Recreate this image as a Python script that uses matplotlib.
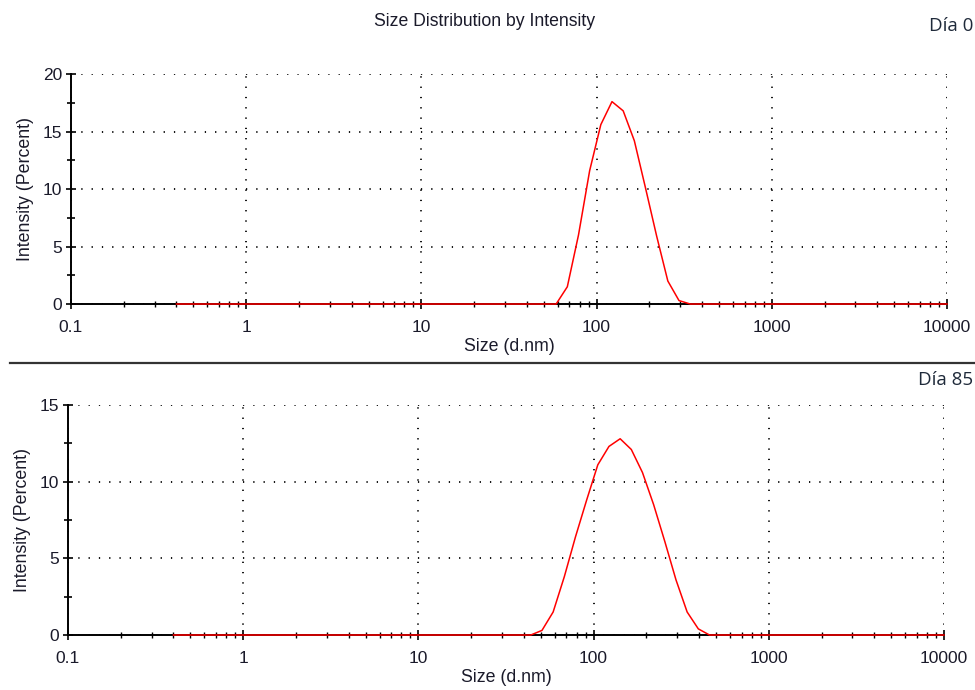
import numpy as np
import matplotlib.pyplot as plt
from matplotlib.lines import Line2D
from matplotlib.ticker import FixedLocator, FixedFormatter, LogLocator, MultipleLocator, NullFormatter

plt.rcParams['font.family'] = ['Liberation Sans', 'DejaVu Sans']

# Zetasizer size bins (d.nm)
size_bins = [0.4, 0.4632, 0.5365, 0.6213, 0.7195, 0.8332, 0.9649, 1.117, 1.294, 1.499,
             1.736, 2.010, 2.328, 2.696, 3.122, 3.615, 4.187, 4.849, 5.615, 6.503,
             7.531, 8.721, 10.10, 11.70, 13.54, 15.69, 18.17, 21.04, 24.36, 28.21,
             32.67, 37.84, 43.82, 50.75, 58.77, 68.06, 78.82, 91.28, 105.7, 122.4,
             141.8, 164.2, 190.1, 220.2, 255.0, 295.3, 342.0, 396.1, 458.7, 531.2,
             615.1, 712.4, 825.0, 955.4, 1106, 1281, 1484, 1718, 1990, 2305,
             2669, 3091, 3580, 4145, 4801, 5560, 6439, 7456, 8635, 10000]

# non-zero part of each distribution, keyed by bin size
day0_peak = {58.77: 0.0, 68.06: 1.5, 78.82: 6.0, 91.28: 11.6, 105.7: 15.6, 122.4: 17.6,
             141.8: 16.8, 164.2: 14.2, 190.1: 10.1, 220.2: 5.9, 255.0: 2.0, 295.3: 0.3}
day85_peak = {50.75: 0.3, 58.77: 1.5, 68.06: 3.8, 78.82: 6.4, 91.28: 8.8, 105.7: 11.1,
              122.4: 12.3, 141.8: 12.8, 164.2: 12.1, 190.1: 10.6, 220.2: 8.5, 255.0: 6.1,
              295.3: 3.6, 342.0: 1.5, 396.1: 0.4}

day0 = [day0_peak.get(s, 0.0) for s in size_bins]
day85 = [day85_peak.get(s, 0.0) for s in size_bins]

panels = [
    (day0, 20, [0.0728, 0.5594, 0.8985, 0.3333], "Día 0", 26),
    (day85, 15, [0.0697, 0.0797, 0.8985, 0.3333], "Día 85", 380),
]

dec_ticks = [0.1, 1, 10, 100, 1000, 10000]
dec_labels = ["0.1", "1", "10", "100", "1000", "10000"]

txt_col = "#1a1a2a"

fig = plt.figure(figsize=(9.75, 6.9), dpi=100)

for values, ymax, rect, tag, tag_y in panels:
    ax = fig.add_axes(rect)
    ax.plot(size_bins, values, color="#ff0000", lw=1.1, zorder=3, clip_on=False)
    ax.set_xscale("log")
    ax.set_xlim(0.1, 10000)
    ax.set_ylim(0, ymax)

    ax.xaxis.set_major_locator(FixedLocator(dec_ticks))
    ax.xaxis.set_major_formatter(FixedFormatter(dec_labels))
    ax.xaxis.set_minor_locator(LogLocator(base=10, subs=np.arange(2, 10), numticks=20))
    ax.xaxis.set_minor_formatter(NullFormatter())
    ax.yaxis.set_major_locator(MultipleLocator(5))
    ax.yaxis.set_minor_locator(MultipleLocator(2.5))

    for side in ["top", "right"]:
        ax.spines[side].set_visible(False)
    ax.spines["left"].set_linewidth(1.4)
    ax.spines["bottom"].set_linewidth(1.4)

    ax.tick_params(axis="both", which="major", direction="inout", length=7, width=1.2,
                   labelsize=12.5, colors="black", labelcolor=txt_col)
    ax.tick_params(axis="y", which="minor", direction="inout", length=6, width=1.2)
    ax.tick_params(axis="x", which="minor", direction="inout", length=5, width=1.0)
    ax.tick_params(axis="x", which="major", pad=8)
    ax.tick_params(axis="y", which="major", pad=3)

    ax.grid(True, which="major", color="black", lw=1.3, linestyle=(0, (0.7, 5.0)))
    ax.set_axisbelow(True)

    ax.set_xlabel("Size (d.nm)", fontsize=12.8, labelpad=2, color=txt_col)
    ax.set_ylabel("Intensity (Percent)", fontsize=12.8, labelpad=6, color=txt_col)

    fig.text(973 / 975, 1 - tag_y / 690, tag, ha="right", va="center",
             fontsize=13.5, family=["Open Sans", "DejaVu Sans"], color="#1f2a3a")

fig.text(485 / 975, 1 - 22 / 690, "Size Distribution by Intensity", ha="center",
         va="center", fontsize=12.7, color=txt_col)

# separator between the two reports
fig.add_artist(Line2D([10 / 975, 1.0], [1 - 363 / 690, 1 - 363 / 690],
                      color="#333333", lw=1.6))

fig.savefig("out.png", dpi=100)
